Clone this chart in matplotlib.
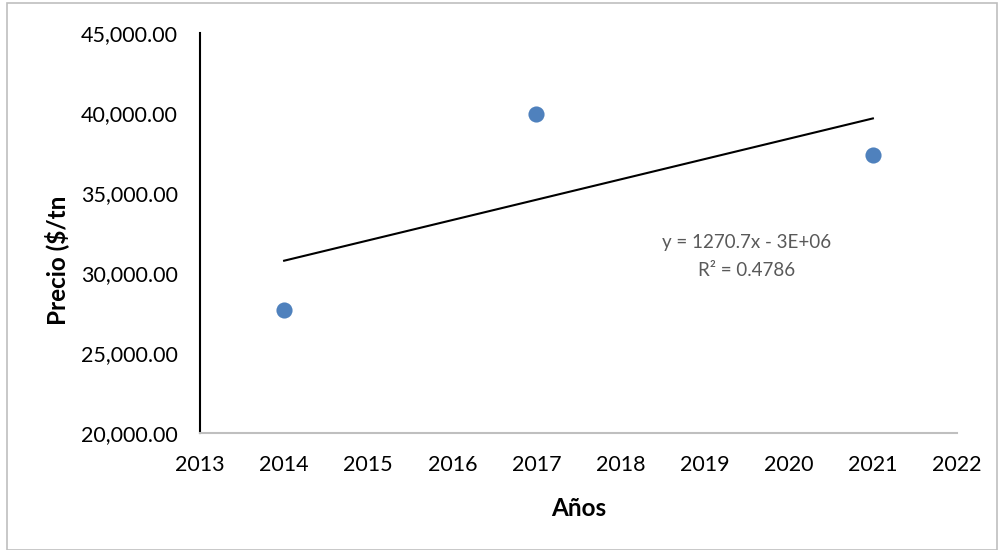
import numpy as np
import matplotlib.pyplot as plt
from matplotlib.patches import Rectangle
from matplotlib.ticker import FuncFormatter

plt.rcParams['font.family'] = ['Lato', 'DejaVu Sans']

# precio por año
years = [2014, 2017, 2021]
price = [27700, 39950, 37360]

x_ticks = list(range(2013, 2023))
y_ticks = [20000, 25000, 30000, 35000, 40000, 45000]

eq_text = 'y = 1270.7x - 3E+06'
r2_text = 'R² = 0.4786'

fig = plt.figure(figsize=(10, 5.5), dpi=100)
ax = fig.add_axes([0.2, 0.2127, 0.757, 0.7273])

# borde del grafico
fig.patches.append(Rectangle((0.007, 0.0), 0.99, 0.994, transform=fig.transFigure,
                             fill=False, edgecolor='#bfbfbf', linewidth=1.2))

ax.scatter(years, price, s=135, color='#4f81bd', zorder=3, linewidths=0)

# linea de tendencia lineal
m, b = np.polyfit(years, price, 1)
xt = np.array([years[0], years[-1]])
ax.plot(xt, m * xt + b, color='black', linewidth=1.5, zorder=2)

ax.text(2019.5, 31900, eq_text, ha='center', va='center', fontsize=13.5, color='#595959')
ax.text(2019.5, 30150, r2_text, ha='center', va='center', fontsize=13.5, color='#595959')

ax.set_xlim(2013, 2022)
ax.set_ylim(20000, 45000)
ax.set_xticks(x_ticks)
ax.set_yticks(y_ticks)
ax.yaxis.set_major_formatter(FuncFormatter(lambda v, p: f'{v:,.2f}'))
ax.tick_params(axis='both', length=0, labelsize=15.5)
ax.tick_params(axis='y', pad=16)
ax.tick_params(axis='x', pad=16)

for s in ['top', 'right']:
    ax.spines[s].set_visible(False)
ax.spines['left'].set_color('black')
ax.spines['left'].set_linewidth(1.5)
ax.spines['bottom'].set_color('#bfbfbf')
ax.spines['bottom'].set_linewidth(1.5)

ax.set_xlabel('Años', fontsize=17.5, fontweight='bold', va='top')
ax.set_ylabel('Precio ($/tn', fontsize=17.5, fontweight='bold')
ax.xaxis.set_label_coords(0.5, -0.16)
ax.yaxis.set_label_coords(-0.173, 0.4325)

fig.savefig('out.png', dpi=100)
